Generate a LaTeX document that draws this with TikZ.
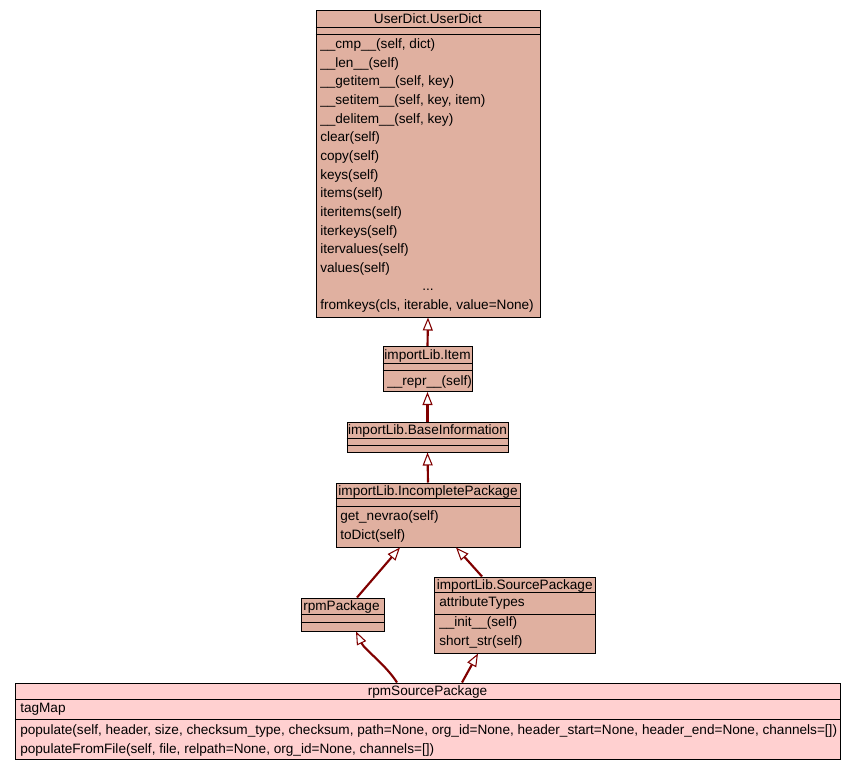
\documentclass[tikz,border=0pt]{standalone}
\usepackage{fontspec}
\setmainfont{Liberation Sans}
\usetikzlibrary{arrows.meta,calc}
\definecolor{classfill}{RGB}{224,176,160}
\definecolor{leaffill}{RGB}{255,208,208}
\definecolor{edgered}{RGB}{128,0,0}
\def\upx{0.75pt}
\tikzset{
  classbox/.style={draw=black, line width=0.75pt, fill=classfill, inner sep=0pt},
  leafbox/.style={classbox, fill=leaffill},
  sepline/.style={draw=black, line width=0.75pt},
  title/.style={inner sep=0pt, anchor=mid, yshift=-1.1pt, font=\fontsize{10.2pt}{12pt}\selectfont},
  member/.style={inner sep=0pt, anchor=mid west, yshift=-1.1pt, font=\fontsize{10.2pt}{12pt}\selectfont},
  inherit/.style={draw=edgered, line width=1.6pt,
    -{Triangle[open, fill=white, length=13*\upx, width=10*\upx, line width=0.8pt]}},
}
\begin{document}
\begin{tikzpicture}[x=0.75pt, y=-0.75pt]
\useasboundingbox (0,0) rectangle (856,771);

% UserDict.UserDict
\node[classbox, minimum width=224*\upx, minimum height=307*\upx] (ud) at (428,163.5) {};
\draw[sepline] (ud.west |- 0,27) -- (ud.east |- 0,27);
\draw[sepline] (ud.west |- 0,34) -- (ud.east |- 0,34);
\node[title] (udt) at (428,18.5) {UserDict.UserDict};
\foreach \t [count=\i from 0] in {
  \_\_cmp\_\_(self{,} dict), \_\_len\_\_(self), \_\_getitem\_\_(self{,} key),
  \_\_setitem\_\_(self{,} key{,} item), \_\_delitem\_\_(self{,} key),
  clear(self), copy(self), keys(self), items(self), iteritems(self),
  iterkeys(self), itervalues(self), values(self)}
  \node[member] (udm\i) at (320,43.7+\i*18.65) {\t};
\node[title] (uddots) at (428,285.6) {...};
\node[member] (udlast) at (320,304.9) {fromkeys(cls, iterable, value=None)};

% importLib.Item
\node[classbox, minimum width=89*\upx, minimum height=45*\upx] (item) at (427.5,369) {};
\draw[sepline] (item.west |- 0,363) -- (item.east |- 0,363);
\draw[sepline] (item.west |- 0,370) -- (item.east |- 0,370);
\node[title] (itemt) at (427.5,354.5) {importLib.Item};
\node[member] (itemm) at (387,381) {\_\_repr\_\_(self)};

% importLib.BaseInformation
\node[classbox, minimum width=161*\upx, minimum height=30*\upx] (base) at (427.5,437) {};
\draw[sepline] (base.west |- 0,438.5) -- (base.east |- 0,438.5);
\draw[sepline] (base.west |- 0,445.5) -- (base.east |- 0,445.5);
\node[title] (baset) at (427.5,429.5) {importLib.BaseInformation};

% importLib.IncompletePackage
\node[classbox, minimum width=184*\upx, minimum height=64*\upx] (inc) at (428,515) {};
\draw[sepline] (inc.west |- 0,498.5) -- (inc.east |- 0,498.5);
\draw[sepline] (inc.west |- 0,506.5) -- (inc.east |- 0,506.5);
\node[title] (inct) at (428,490.5) {importLib.IncompletePackage};
\node[member] (incm1) at (340,516) {get\_nevrao(self)};
\node[member] (incm2) at (340,535) {toDict(self)};

% rpmPackage
\node[classbox, minimum width=83*\upx, minimum height=33*\upx] (rpm) at (342.5,614.5) {};
\draw[sepline] (rpm.west |- 0,614.5) -- (rpm.east |- 0,614.5);
\draw[sepline] (rpm.west |- 0,622.5) -- (rpm.east |- 0,622.5);
\node[member] (rpmt) at (303,606) {rpmPackage};

% importLib.SourcePackage
\node[classbox, minimum width=160.5*\upx, minimum height=76*\upx] (src) at (514.75,615) {};
\draw[sepline] (src.west |- 0,592.5) -- (src.east |- 0,592.5);
\draw[sepline] (src.west |- 0,614) -- (src.east |- 0,614);
\node[title] (srct) at (514.75,584.5) {importLib.SourcePackage};
\node[member] (srca) at (439,602) {attributeTypes};
\node[member] (srcm1) at (439,622) {\_\_init\_\_(self)};
\node[member] (srcm2) at (439,641) {short\_str(self)};

% rpmSourcePackage
\node[leafbox, minimum width=825*\upx, minimum height=76*\upx] (rsp) at (427.5,721) {};
\draw[sepline] (rsp.west |- 0,699) -- (rsp.east |- 0,699);
\draw[sepline] (rsp.west |- 0,719.5) -- (rsp.east |- 0,719.5);
\node[title] (rspt) at (427.5,690.5) {rpmSourcePackage};
\node[member] (rspa) at (20,707.5) {tagMap};
\node[member] (rspm1) at (20,729.5) {populate(self, header, size, checksum\_type, checksum, path=None, org\_id=None, header\_start=None, header\_end=None, channels=[])};
\node[member] (rspm2) at (20,748) {populateFromFile(self, file, relpath=None, org\_id=None, channels=[])};

% inheritance arrows
\draw[inherit] (item.north) -- (ud.south);
\draw[inherit] (base.north) -- (item.south);
\draw[inherit] (inc.north) -- (base.south);
\draw[inherit] ($(rpm.north)+(14.5,0)$) -- ($(inc.south)+(-28,0)$);
\draw[inherit] ($(src.north)+(-32.75,0)$) -- ($(inc.south)+(28,0)$);
\draw[inherit] ($(rsp.north)+(-30.5,0)$) .. controls ($(rsp.north)+(-42,-18)$) and ($(rpm.south)+(22,18)$) .. ($(rpm.south)+(13.5,0)$);
\draw[inherit] ($(rsp.north)+(34.5,0)$) -- ($(src.south)+(-36.75,0)$);
\end{tikzpicture}
\end{document}
